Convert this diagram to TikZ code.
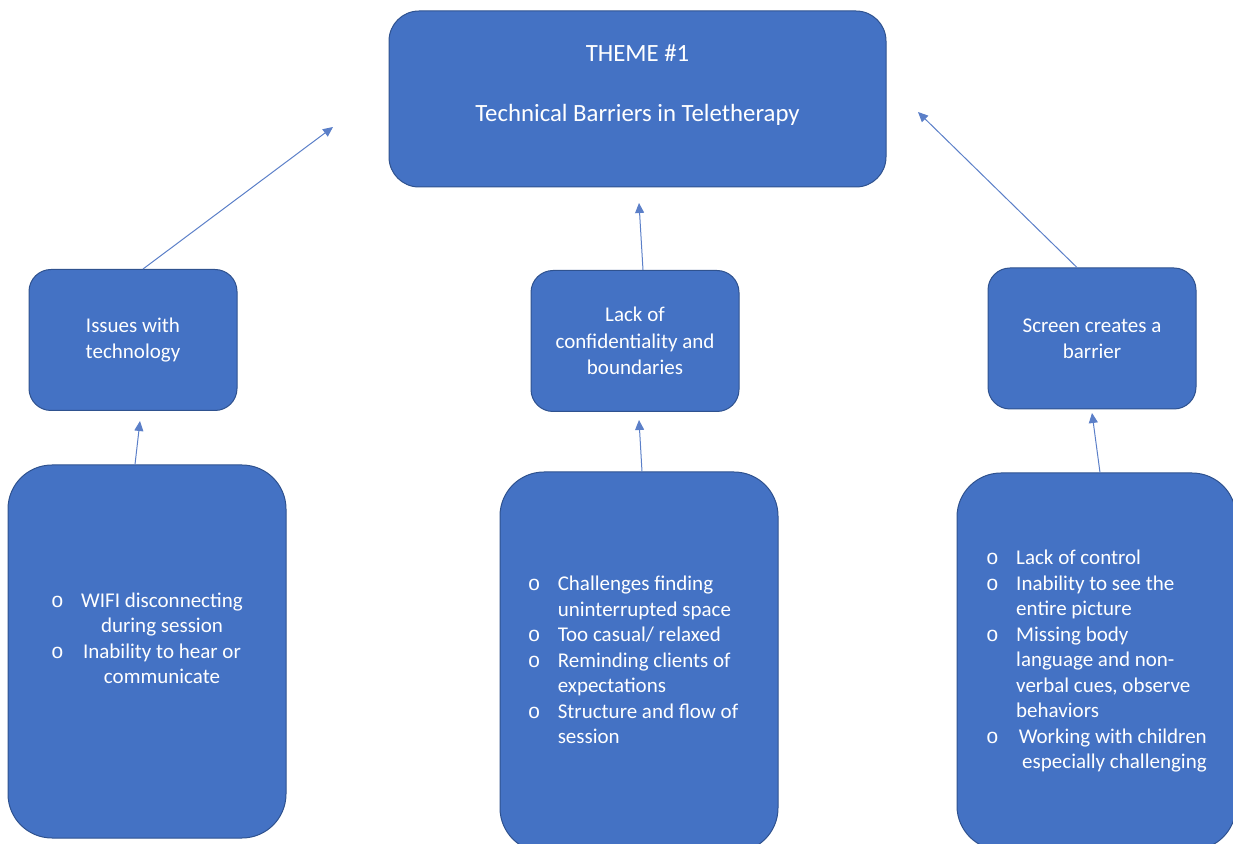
\documentclass[tikz,border=0pt]{standalone}
\usepackage{fontspec}
\setmainfont{Carlito}
\newfontfamily\dotfont{Liberation Mono}
\usetikzlibrary{positioning, arrows.meta}
\definecolor{tFill}{HTML}{4472C4}
\definecolor{tLine}{HTML}{2F528F}
\definecolor{tLink}{HTML}{5B7FC8}
\newcommand{\itemdot}{{\dotfont o}}
\tikzset{
  box/.style={draw=tLine, fill=tFill, line width=0.5pt, text=white,
    align=center, inner sep=0pt},
  themebox/.style={box, minimum width=248.5pt, minimum height=88pt,
    rounded corners=15pt, font=\fontsize{12.4}{14.5}\selectfont},
  subbox/.style={box, minimum width=104pt, minimum height=70.5pt,
    rounded corners=11pt, font=\fontsize{10.5}{13.2}\selectfont},
  listbox/.style={box, minimum width=139pt, minimum height=188pt,
    rounded corners=22pt, font=\fontsize{10.5}{12.75}\selectfont},
  link/.style={-{Triangle[length=5pt, width=4.5pt]}, draw=tLink, line width=0.5pt},
}

\begin{document}
\begin{tikzpicture}[x=0.5pt, y=-0.5pt]
  \useasboundingbox (0,0) rectangle (1233,844);
  \clip (0,0) rectangle (1233,844);
  % theme
  \node[themebox] (theme) at (637.5,99) {\begin{tabular}{c}
      THEME \#1\\[15.5pt]
      Technical Barriers in Teletherapy\\[13pt]
    \end{tabular}};
  % sub themes
  \node[subbox] (tech) at (133,340) {Issues with\\technology};
  \node[subbox] (conf) at (635,341) {Lack of\\confidentiality and\\boundaries};
  \node[subbox] (screen) at (1092,338.5) {Screen creates a\\barrier};
  % lists
  \node[listbox, minimum height=186.5pt] (techlist) at (147,651.5) {%
    \begin{tabular}{@{}l@{\hspace{8.7pt}}c@{}}
      \itemdot & WIFI disconnecting\\
               & during session\\
      \itemdot & Inability to hear or\\
               & communicate\\[11pt]
    \end{tabular}};
  \node[listbox, minimum height=190pt] (conflist) at (639,662) {%
    \begin{tabular}{@{}l@{\hspace{8.7pt}}l@{\hspace{6pt}}}
      \itemdot & Challenges finding\\
               & uninterrupted space\\
      \itemdot & Too casual/ relaxed\\
      \itemdot & Reminding clients of\\
               & expectations\\
      \itemdot & Structure and flow of\\
               & session
    \end{tabular}};
  \node[listbox, minimum width=139.5pt, minimum height=188.5pt] (screenlist) at (1096.5,661.5) {%
    \begin{tabular}{@{}l@{\hspace{8.7pt}}l@{}}
      \itemdot & Lack of control\\
      \itemdot & Inability to see the\\
               & entire picture\\
      \itemdot & Missing body\\
               & language and non-\\
               & verbal cues, observe\\
               & behaviors\\
      \itemdot & \hspace{1.3pt}Working with children\\
               & \hspace{3pt}especially challenging
    \end{tabular}};
  % arrow tips
  \coordinate (tipL) at (333,127);
  \coordinate (tipM) at (639,203);
  \coordinate (tipR) at (918,112);
  \coordinate (tipTech) at (140,421);
  \coordinate (tipConf) at (639,420);
  \coordinate (tipScreen) at (1092,413);
  \draw[link] ([xshift=5pt]tech.north) -- (tipL);
  \draw[link] ([xshift=4pt]conf.north) -- (tipM);
  \draw[link] ([xshift=-7.5pt]screen.north) -- (tipR);
  \draw[link] ([xshift=-6pt]techlist.north) -- (tipTech);
  \draw[link] ([xshift=1.5pt]conflist.north) -- (tipConf);
  \draw[link] ([xshift=1.75pt]screenlist.north) -- (tipScreen);
\end{tikzpicture}
\end{document}
